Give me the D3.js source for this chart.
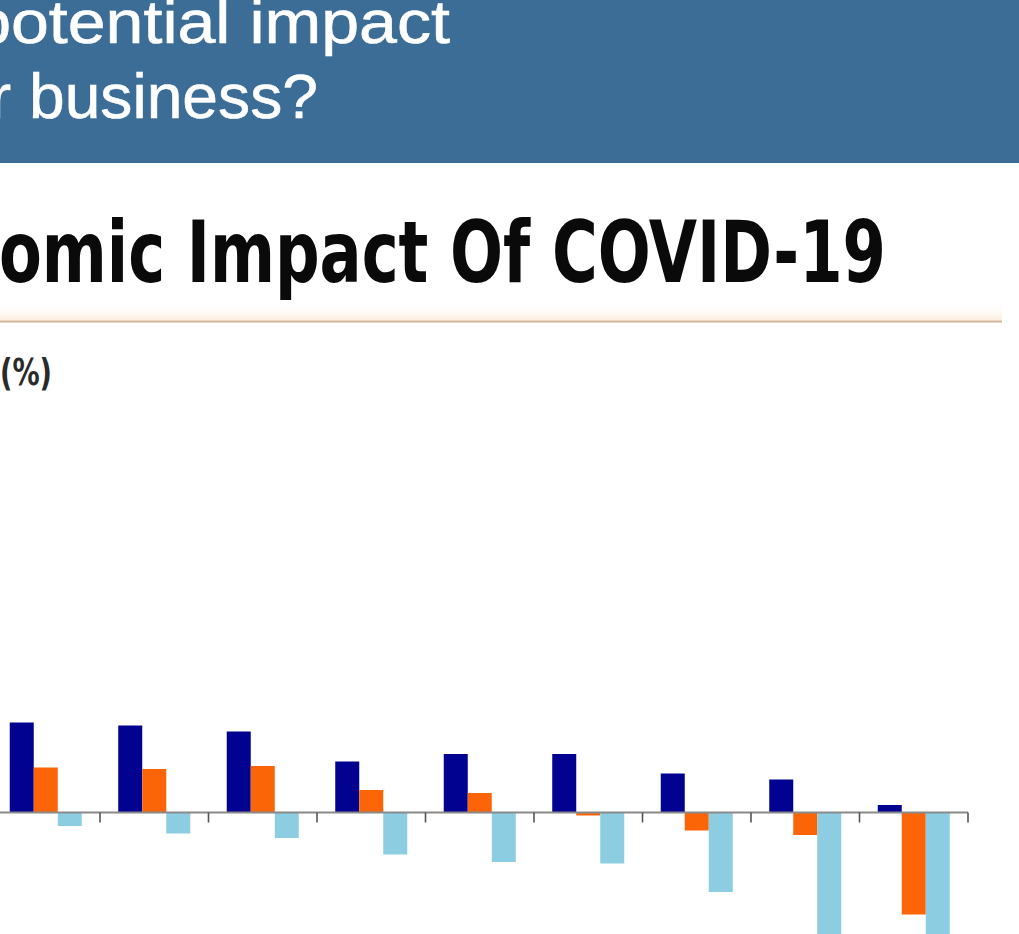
<!DOCTYPE html>
<html>
<head>
<meta charset="utf-8">
<script src="https://cdn.jsdelivr.net/npm/d3@7"></script>
<style>
  html, body { margin: 0; padding: 0; background: #fff; overflow: hidden; }
  svg { display: block; }
</style>
</head>
<body>
<svg id="chart" width="1019" height="934"></svg>
<script>
// ---- data (values in %) ----
const categories = ["C1", "C2", "C3", "C4", "C5", "C6", "C7", "C8", "C9"];
const seriesNames = ["Series A", "Series B", "Series C"];
const seriesA = [6.0, 5.8, 5.4, 3.4, 3.9, 3.9, 2.6, 2.2, 0.5];
const seriesB = [3.0, 2.9, 3.1, 1.5, 1.3, -0.2, -1.2, -1.5, -6.8];
const seriesC = [-0.9, -1.4, -1.7, -2.8, -3.3, -3.4, -5.3, -9.0, -9.5];
const seriesColors = ["#020290", "#fb6508", "#8dcde2"];
const headerLine1 = "potential impact";
const headerLine2 = "your business?";
const titleText = "Economic Impact Of COVID-19";
const unitText = "(%)";

const svg = d3.select("#chart");
const W = 1019, H = 934;

// ---- header band ----
svg.append("rect").attr("x", 0).attr("y", 0).attr("width", W).attr("height", 163)
  .attr("fill", "#3b6d97");

function fitText(sel, startIndex, left, right, baseline) {
  const node = sel.node();
  const total = node.getComputedTextLength();
  const start = node.getStartPositionOfChar(startIndex).x;
  const sx = (right - left) / (total - start);
  sel.attr("transform", `translate(${left - start * sx},${baseline}) scale(${sx},1)`);
}

const hFont = "'Liberation Sans', Arial, Helvetica, sans-serif";
const h1 = svg.append("text").attr("x", 0).attr("y", 0)
  .attr("font-family", hFont).attr("font-size", 61).attr("fill", "#fff")
  .attr("stroke", "#fff").attr("stroke-width", 0.6)
  .text(headerLine1);
fitText(h1, 1, 11, 450, 43);
const h2 = svg.append("text").attr("x", 0).attr("y", 0)
  .attr("font-family", hFont).attr("font-size", 63).attr("fill", "#fff")
  .attr("stroke", "#fff").attr("stroke-width", 0.6)
  .text(headerLine2);
fitText(h2, 5, 29, 318, 118);

// ---- title ----
const tFont = "'Liberation Sans Narrow', 'DejaVu Sans Condensed', 'Roboto', sans-serif";
const title = svg.append("text").attr("x", 0).attr("y", 0)
  .attr("font-family", tFont).attr("font-weight", "bold").attr("font-size", 86)
  .attr("fill", "#0a0a0a")
  .text(titleText);
fitText(title, 4, -1, 886, 282);

// rule with soft glow
const defs = svg.append("defs");
const grad = defs.append("linearGradient").attr("id", "glow").attr("x1", 0).attr("x2", 0).attr("y1", 0).attr("y2", 1);
grad.append("stop").attr("offset", "0%").attr("stop-color", "#fff").attr("stop-opacity", 0);
grad.append("stop").attr("offset", "100%").attr("stop-color", "#fdeee0").attr("stop-opacity", 1);
svg.append("rect").attr("x", 0).attr("y", 302).attr("width", 1002).attr("height", 18).attr("fill", "url(#glow)");
svg.append("line").attr("x1", 0).attr("x2", 1002).attr("y1", 321.5).attr("y2", 321.5)
  .attr("stroke", "#d2b394").attr("stroke-width", 2.2);

// unit label
const unit = svg.append("text").attr("x", 0).attr("y", 0)
  .attr("font-family", tFont).attr("font-weight", "bold").attr("font-size", 38)
  .attr("fill", "#2a2a2a")
  .text(unitText);
fitText(unit, 0, 0, 52, 385);

// ---- bars ----
const x0 = d3.scaleBand().domain(categories).range([-8.5, 968]).paddingInner(0).paddingOuter(0);
const x1 = d3.scaleBand().domain(seriesNames).range([0, x0.bandwidth()]).paddingInner(0).paddingOuter(0.76);
const y = d3.scaleLinear().domain([-10, 8]).range([962.5, 692.5]);
const color = d3.scaleOrdinal().domain(seriesNames).range(seriesColors);

const allSeries = [seriesA, seriesB, seriesC];
const rows = categories.map((c, i) => ({
  cat: c,
  vals: seriesNames.map((s, j) => ({ s, v: allSeries[j][i] }))
}));

const g = svg.append("g");
const groups = g.selectAll("g.grp").data(rows).join("g")
  .attr("class", "grp")
  .attr("transform", d => `translate(${x0(d.cat)},0)`);
groups.selectAll("rect").data(d => d.vals).join("rect")
  .attr("x", d => x1(d.s))
  .attr("width", x1.bandwidth())
  .attr("y", d => Math.min(y(d.v), y(0)))
  .attr("height", d => Math.abs(y(d.v) - y(0)))
  .attr("fill", d => color(d.s));

// ---- axis at zero ----
svg.append("line").attr("x1", 0).attr("x2", 968).attr("y1", y(0)).attr("y2", y(0))
  .attr("stroke", "#8a8a8a").attr("stroke-width", 2);
const tickXs = categories.map(c => x0(c) + x0.bandwidth());
svg.append("g").selectAll("line").data(tickXs).join("line")
  .attr("x1", d => d).attr("x2", d => d)
  .attr("y1", y(0)).attr("y2", y(0) + 10)
  .attr("stroke", "#555").attr("stroke-width", 1.6);
</script>
</body>
</html>
